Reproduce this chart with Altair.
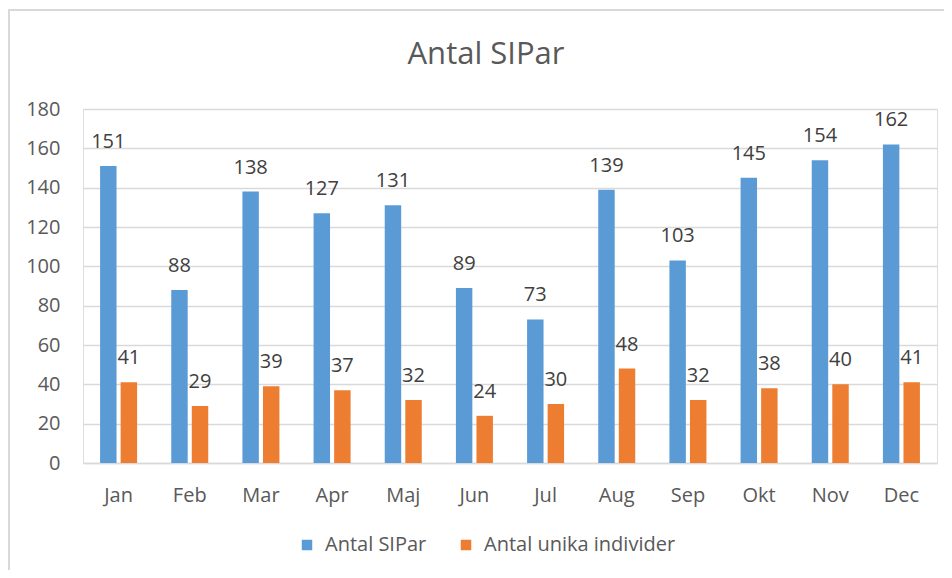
import altair as alt
import pandas as pd

months = ["Jan", "Feb", "Mar", "Apr", "Maj", "Jun", "Jul", "Aug", "Sep", "Okt", "Nov", "Dec"]
series_names = ["Antal SIPar", "Antal unika individer"]
sipar = [151, 88, 138, 127, 131, 89, 73, 139, 103, 145, 154, 162]
unika = [41, 29, 39, 37, 32, 24, 30, 48, 32, 38, 40, 41]
y_ticks = [0, 20, 40, 60, 80, 100, 120, 140, 160, 180]
colors = ["#5B9BD5", "#ED7D31"]

rows = []
for m, a, b in zip(months, sipar, unika):
    rows.append({"month": m, "series": series_names[0], "value": a})
    rows.append({"month": m, "series": series_names[1], "value": b})
df = pd.DataFrame(rows)

FONT = "Open Sans"
W, H = 854, 354

x_enc = alt.X("month:N", sort=months,
              scale=alt.Scale(paddingInner=0.48, paddingOuter=0.24),
              axis=alt.Axis(title=None, labelAngle=0, ticks=False, domainColor="#D9D9D9",
                            domainWidth=1.5, labelPadding=22, labelFontSize=20,
                            labelColor="#595959", labelFont=FONT))
xo_enc = alt.XOffset("series:N", sort=series_names,
                     scale=alt.Scale(paddingInner=0.2, paddingOuter=0))
y_enc = alt.Y("value:Q", scale=alt.Scale(domain=[0, 180], nice=False),
              axis=alt.Axis(title=None, values=y_ticks, domain=False, ticks=False,
                            gridColor="#D9D9D9", gridWidth=1.5, labelPadding=23,
                            labelFontSize=20, labelColor="#595959", labelFont=FONT))

base = alt.Chart(df).encode(x=x_enc, xOffset=xo_enc, y=y_enc)

bars = base.mark_bar().encode(
    color=alt.Color("series:N", sort=series_names,
                    scale=alt.Scale(domain=series_names, range=colors),
                    legend=alt.Legend(title=None, orient="none", legendX=214, legendY=426,
                                      direction="horizontal", symbolType="square",
                                      symbolSize=110, symbolStrokeWidth=0,
                                      labelFontSize=20, labelColor="#595959",
                                      labelFont=FONT, labelLimit=0,
                                      columnPadding=29, labelOffset=8))
)

labels = base.mark_text(dy=-18, baseline="alphabetic", align="center",
                        fontSize=20, font=FONT, color="#404040").encode(
    text=alt.Text("value:Q")
)

border_df = pd.DataFrame({"k": [0]})
top_border = alt.Chart(border_df).mark_rule(color="#D9D9D9", strokeWidth=2).encode(
    x=alt.value(-75), x2=alt.value(W + 10), y=alt.value(-99))
left_border = alt.Chart(border_df).mark_rule(color="#D9D9D9", strokeWidth=2).encode(
    x=alt.value(-74), y=alt.value(-99), y2=alt.value(H + 110))

chart = alt.layer(bars, labels, top_border, left_border).properties(
    width=W, height=H,
    title=alt.TitleParams("Antal SIPar", fontSize=31, font=FONT, fontWeight="normal",
                          color="#595959", anchor="middle", dx=-24, offset=-62, frame="group"),
    autosize=alt.AutoSizeParams(type="none"),
    padding={"left": 75, "top": 101, "right": 7, "bottom": 107},
).configure_view(stroke=None).configure(background="white")

chart.save("out.html", embed_options={"renderer": "svg", "actions": False})
